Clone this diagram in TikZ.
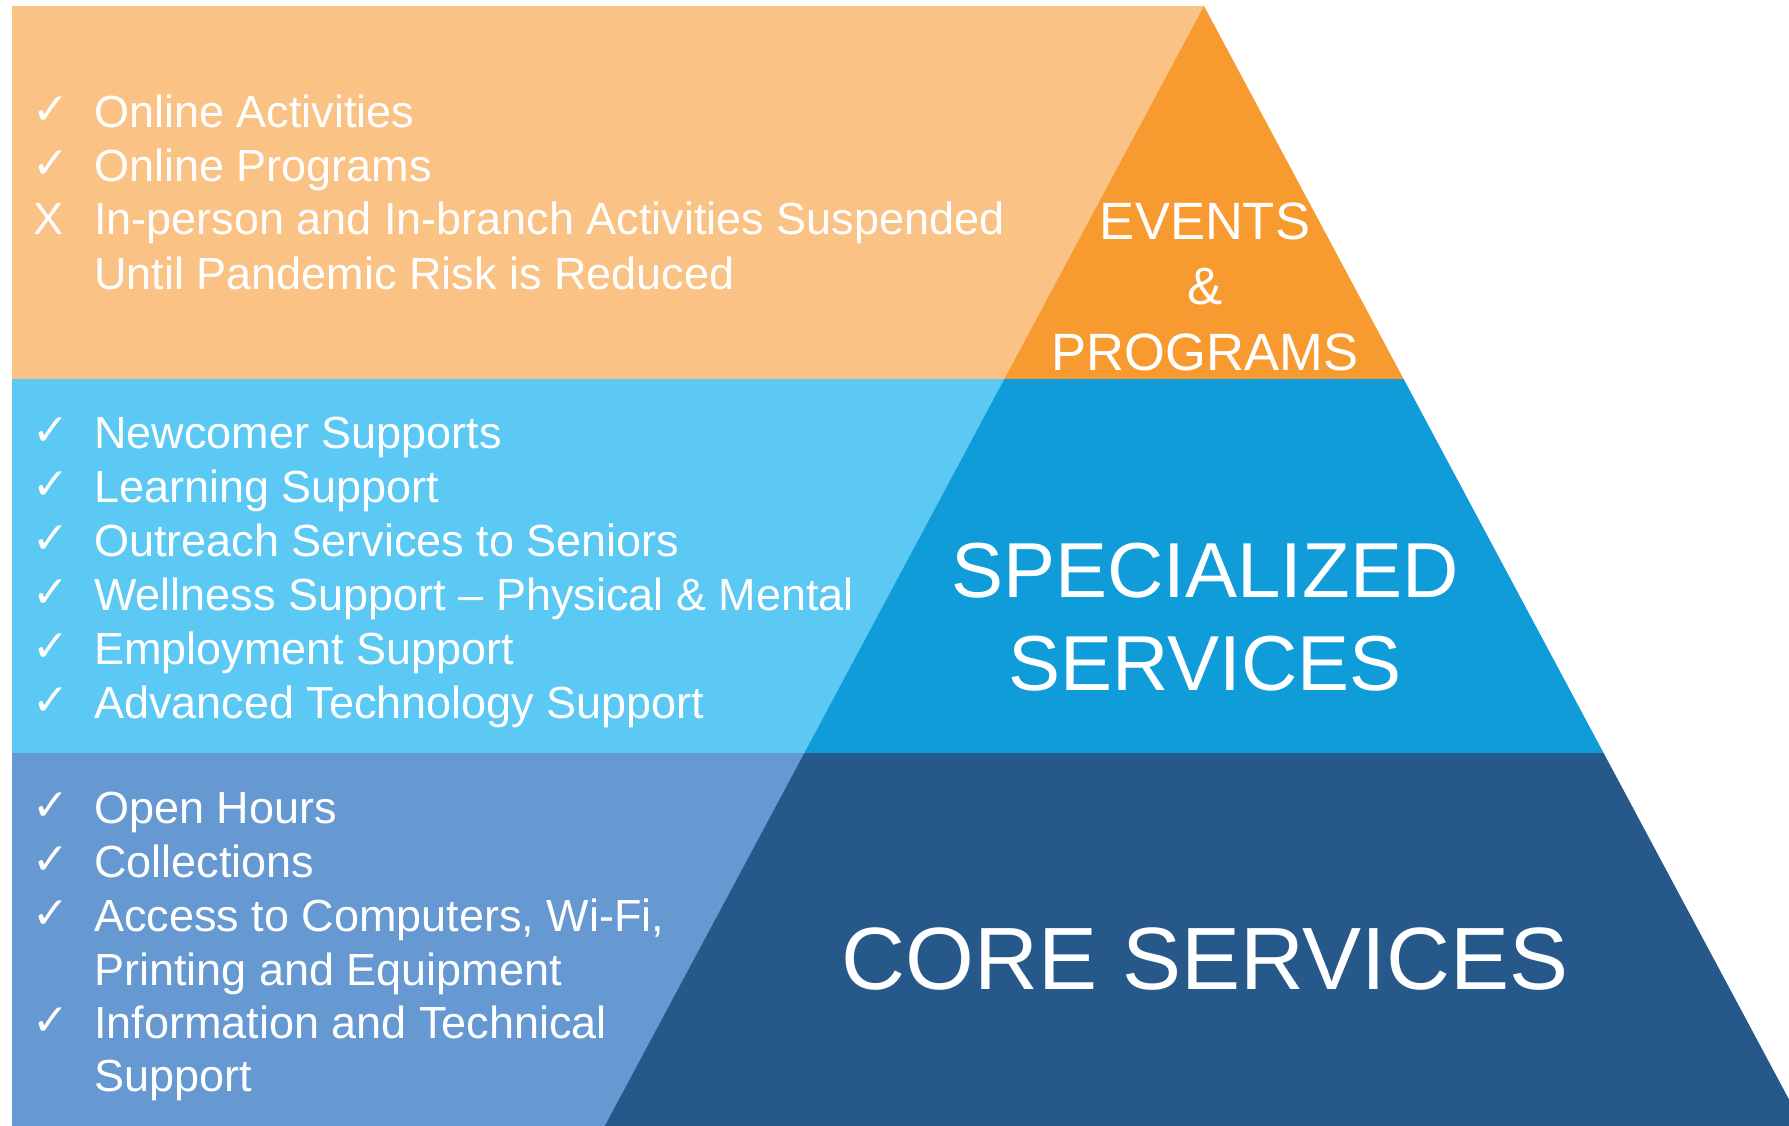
\documentclass[tikz,border=0pt]{standalone}
\usepackage{fontspec}
\setmainfont{Liberation Sans}
\newfontfamily\symfont{DejaVu Sans}
\definecolor{lorange}{HTML}{FAC285}
\definecolor{dorange}{HTML}{F79B31}
\definecolor{lblue}{HTML}{5CC9F5}
\definecolor{mblue}{HTML}{0F9CD8}
\definecolor{sblue}{HTML}{6699D1}
\definecolor{dblue}{HTML}{265889}
\tikzset{
  item/.style={anchor=base west, inner sep=0pt, text=white, font=\fontsize{45}{54}\selectfont},
  tick/.style={anchor=base west, inner sep=0pt, text=white, font=\symfont\bfseries\fontsize{44}{46}\selectfont},
  biglabel/.style={anchor=base, inner sep=0pt, text=white},
}
\begin{document}
\begin{tikzpicture}[x=1pt,y=-1pt]
\useasboundingbox (0,0) rectangle (1789,1126);
\begin{scope}
\clip (0,0) rectangle (1789,1126);
% bands
\fill[lorange] (12,6) rectangle (1204,379);
\fill[lblue] (12,379) rectangle (1004.4,753);
\fill[sblue] (12,753) rectangle (804.4,1126);
% pyramid
\fill[dorange] (1204,6) -- (1403.6,379) -- (1004.4,379) -- cycle;
\fill[mblue] (1004.4,379) -- (1403.6,379) -- (1603.6,753) -- (804.4,753) -- cycle;
\fill[dblue] (804.4,753) -- (1603.6,753) -- (1803.2,1126) -- (604.8,1126) -- cycle;
\end{scope}
% top band text
\node[tick] (m1) at (32,125) {✓};
\node[item] (t1) at (94,128) {Online Activities};
\node[tick] (m2) at (32,179) {✓};
\node[item] (t2) at (94,182) {Online Programs};
\node[item] (m3) at (33,235) {X};
\node[item] (t3) at (94,235) {In-person and In-branch Activities Suspended};
\node[item] (t4) at (94,289) {Until Pandemic Risk is Reduced};
% middle band
\node[tick] (m5) at (32,445) {✓};
\node[item] (t5) at (94,448) {Newcomer Supports};
\node[tick] (m6) at (32,499) {✓};
\node[item] (t6) at (94,502) {Learning Support};
\node[tick] (m7) at (32,553) {✓};
\node[item] (t7) at (94,556) {Outreach Services to Seniors};
\node[tick] (m8) at (32,607) {✓};
\node[item] (t8) at (94,610) {Wellness Support – Physical \& Mental};
\node[tick] (m9) at (32,661) {✓};
\node[item] (t9) at (94,664) {Employment Support};
\node[tick] (m10) at (32,715) {✓};
\node[item] (t10) at (94,718) {Advanced Technology Support};
% bottom band
\node[tick] (m11) at (32,820) {✓};
\node[item] (t11) at (94,823) {Open Hours};
\node[tick] (m12) at (32,874) {✓};
\node[item] (t12) at (94,877) {Collections};
\node[tick] (m13) at (32,928) {✓};
\node[item] (t13) at (94,931) {Access to Computers, Wi-Fi,};
\node[item] (t14) at (94,985) {Printing and Equipment};
\node[tick] (m15) at (32,1035) {✓};
\node[item] (t15) at (94,1038) {Information and Technical};
\node[item] (t16) at (94,1091) {Support};
% pyramid labels
\node[biglabel, font=\fontsize{52.5}{60}\selectfont] (ev) at (1205,240) {EVENTS};
\node[biglabel, font=\fontsize{52.5}{60}\selectfont] (amp) at (1205,304) {\&};
\node[biglabel, font=\fontsize{52.5}{60}\selectfont] (pr) at (1205,370) {PROGRAMS};
\node[biglabel, font=\fontsize{78}{90}\selectfont] (sp) at (1205,597) {SPECIALIZED};
\node[biglabel, font=\fontsize{78}{90}\selectfont] (se) at (1205,690) {SERVICES};
\node[biglabel, font=\fontsize{88.5}{100}\selectfont] (co) at (1205,989) {CORE SERVICES};
\end{tikzpicture}
\end{document}
